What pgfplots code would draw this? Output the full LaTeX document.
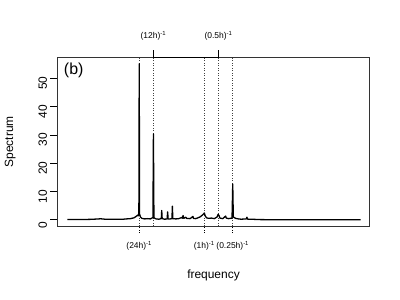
\documentclass[border=0pt]{standalone}
\usepackage{fontspec}
\setmainfont{Liberation Sans}
\usepackage{pgfplots}
\usepackage{pgfplotstable}
\pgfplotsset{compat=1.18}
\pgfplotstableread{
u S
-9.64 0.10
-9.00 0.12
-8.50 0.10
-8.00 0.15
-7.60 0.25
-7.30 0.35
-7.00 0.20
-6.60 0.15
-6.20 0.20
-5.80 0.15
-5.50 0.30
-5.20 0.40
-4.95 0.70
-4.80 1.20
-4.70 1.60
-4.65 1.40
-4.61 2.50
-4.585 55.1
-4.56 2.00
-4.50 1.00
-4.40 0.50
-4.20 0.30
-4.00 0.40
-3.80 0.30
-3.62 0.80
-3.585 30.3
-3.55 0.70
-3.40 0.30
-3.20 0.20
-3.03 0.40
-3.00 3.30
-2.97 0.40
-2.80 0.20
-2.62 0.30
-2.585 2.80
-2.55 0.30
-2.40 0.30
-2.28 0.40
-2.25 4.80
-2.22 0.40
-2.00 0.30
-1.80 0.40
-1.70 0.60
-1.60 0.80
-1.55 0.50
-1.50 1.50
-1.45 0.50
-1.30 0.90
-1.25 0.50
-1.00 0.40
-0.80 1.20
-0.77 0.50
-0.60 0.40
-0.40 0.80
-0.30 1.00
-0.20 1.40
-0.10 1.80
0.00 2.40
0.05 1.50
0.15 0.70
0.30 0.50
0.50 0.60
0.70 0.40
0.90 1.00
0.97 1.90
1.03 1.50
1.10 0.60
1.30 0.40
1.50 1.30
1.55 0.60
1.70 0.40
1.95 0.60
2.00 12.6
2.04 1.00
2.20 0.50
2.40 0.30
2.60 0.20
2.95 0.30
3.00 0.90
3.05 0.20
3.50 0.15
4.00 0.05
5.00 0.02
11.00 0.00
}\spec
\begin{document}
\begin{tikzpicture}
\path[use as bounding box] (0,0) rectangle (400bp,300bp);
\begin{axis}[
  at={(57.5bp,74bp)}, anchor=south west,
  scale only axis, width=312bp, height=168.5bp,
  xmin=-10.34, xmax=11.63, ymin=-2.2, ymax=57.3,
  axis line style={line width=0.6pt, black!80},
  tick align=outside, major tick length=7bp,
  tick style={black, line width=0.6pt},
  xtick={-4.585,0,2},
  xticklabels={{(24h)\textsuperscript{-1}},{(1h)\textsuperscript{-1}},{(0.25h)\textsuperscript{-1}}},
  xtick pos=bottom,
  x tick style={dash pattern=on 1bp off 1.5bp},
  xticklabel style={font=\fontsize{8.5}{9}\selectfont, yshift=-5bp},
  ytick={0,10,20,30,40,50},
  ytick pos=left,
  yticklabel style={rotate=90, anchor=south, font=\fontsize{12}{14}\selectfont, xshift=-5bp},
  /pgf/number format/assume math mode=true,
  xlabel={frequency},
  xlabel style={at={(rel axis cs:0.5,-0.291)}, anchor=center, font=\fontsize{12}{14}\selectfont},
  ylabel={Spectrum},
  ylabel style={at={(rel axis cs:-0.152,0.5)}, anchor=center, rotate=0, font=\fontsize{12}{14}\selectfont},
  clip=false,
]
\draw[black!75, dash pattern=on 1bp off 1.5bp, line width=0.5pt] (axis cs:-4.585,-2.2) -- (axis cs:-4.585,57.3);
\draw[black!75, dash pattern=on 1bp off 1.5bp, line width=0.5pt] (axis cs:-3.585,-2.2) -- (axis cs:-3.585,57.3);
\draw[black!75, dash pattern=on 1bp off 1.5bp, line width=0.5pt] (axis cs:0,-2.2) -- (axis cs:0,57.3);
\draw[black!75, dash pattern=on 1bp off 1.5bp, line width=0.5pt] (axis cs:1,-2.2) -- (axis cs:1,57.3);
\draw[black!75, dash pattern=on 1bp off 1.5bp, line width=0.5pt] (axis cs:2,-2.2) -- (axis cs:2,57.3);
\addplot[black, line width=1.3pt, line join=round] table[x=u, y=S] {\spec};
\draw[line width=1.2pt] (axis cs:-3.585,57.3) -- (axis cs:1,57.3);
\draw[line width=0.6pt] (axis cs:-3.585,57.3) -- ([yshift=7bp]axis cs:-3.585,57.3);
\draw[line width=0.6pt] (axis cs:1,57.3) -- ([yshift=7bp]axis cs:1,57.3);
\node[font=\fontsize{8.5}{9}\selectfont] at ([yshift=21.5bp]axis cs:-3.585,57.3) {(12h)\textsuperscript{-1}};
\node[font=\fontsize{8.5}{9}\selectfont] at ([yshift=21.5bp]axis cs:1,57.3) {(0.5h)\textsuperscript{-1}};
\node[font=\fontsize{16}{18}\selectfont] at (axis cs:-9.2,52.9) {(b)};
\end{axis}
\end{tikzpicture}
\end{document}
